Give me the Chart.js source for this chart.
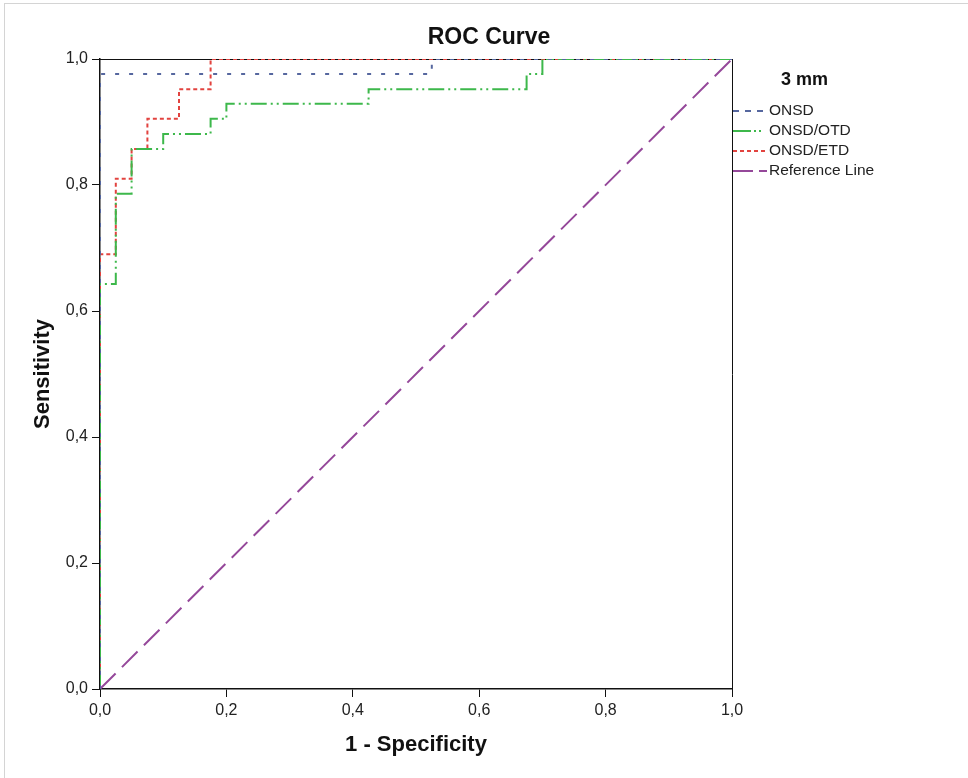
<!DOCTYPE html>
<html>
<head>
<meta charset="utf-8">
<script src="https://cdn.jsdelivr.net/npm/chart.js@4/dist/chart.umd.min.js"></script>
<style>
    body { margin: 0; background: #fff; }
    #wrap { position: relative; width: 968px; height: 778px; overflow: hidden; }
    #frame { position: absolute; left: 4px; top: 3px; width: 1000px; height: 800px;
             border-left: 1px solid #d4d4d4; border-top: 1px solid #d4d4d4; }
    #roc { position: absolute; left: 0; top: 0; }
</style>
</head>
<body>
<div id="wrap">
    <div id="frame"></div>
    <canvas id="roc" width="968" height="778"></canvas>
</div>
<script>
// ROC coordinates (x = 1 - specificity, y = sensitivity)
const onsdX = [0, 0, 0.525, 1];
const onsdY = [0, 0.976, 1, 1];

const otdX = [0, 0, 0.025, 0.05, 0.1, 0.175, 0.2, 0.425, 0.675, 0.7, 1];
const otdY = [0, 0.643, 0.786, 0.857, 0.881, 0.905, 0.929, 0.952, 0.976, 1, 1];

const etdX = [0, 0, 0.025, 0.05, 0.075, 0.125, 0.175, 1];
const etdY = [0, 0.690, 0.810, 0.857, 0.905, 0.952, 1, 1];

const refX = [0, 1];
const refY = [0, 1];

const seriesNames = ["ONSD", "ONSD/OTD", "ONSD/ETD", "Reference Line"];
const legendTitle = "3 mm";

const tickValues = [0, 0.2, 0.4, 0.6, 0.8, 1];
const tickLabels = ["0,0", "0,2", "0,4", "0,6", "0,8", "1,0"];

const FONT = "'Liberation Sans', Arial, sans-serif";

function pts(xs, ys) {
    return xs.map((x, i) => ({x: x, y: ys[i]}));
}

// legend drawn in the space on the right, like the SPSS output
const rocLegend = {
    id: 'rocLegend',
    afterDraw(chart) {
        const ctx = chart.ctx;
        const left = chart.chartArea.right + 1;
        ctx.save();
        ctx.fillStyle = '#111';
        ctx.textBaseline = 'middle';
        ctx.textAlign = 'left';
        ctx.font = 'bold 18px ' + FONT;
        ctx.fillText(legendTitle, left + 48, 80);
        ctx.font = '15.5px ' + FONT;
        chart.data.datasets.forEach((ds, i) => {
            const y = 111 + i * 20;
            ctx.strokeStyle = ds.borderColor;
            ctx.lineWidth = 2;
            ctx.setLineDash(ds.legendDash);
            ctx.beginPath();
            ctx.moveTo(left, y);
            ctx.lineTo(left + 34, y);
            ctx.stroke();
            ctx.setLineDash([]);
            ctx.fillStyle = '#222';
            ctx.fillText(ds.label, left + 36, y);
        });
        ctx.restore();
    }
};

function mainAxis(title, titlePadding, fit) {
    return {
        type: 'linear',
        min: 0,
        max: 1,
        afterBuildTicks: (s) => { s.ticks = tickValues.map(v => ({value: v})); },
        afterFit: fit,
        ticks: {
            callback: (v, i) => tickLabels[i],
            font: {family: FONT, size: 16},
            color: '#222',
            padding: 4
        },
        grid: {drawOnChartArea: false, drawTicks: true, tickLength: 8, color: '#111', lineWidth: 1},
        border: {display: true, color: '#111', width: 1.5},
        title: {
            display: true,
            text: title,
            color: '#111',
            font: {family: FONT, size: 22, weight: 'bold'},
            padding: titlePadding
        }
    };
}

function frameAxis(pos, fit) {
    return {
        type: 'linear',
        position: pos,
        min: 0,
        max: 1,
        afterFit: fit,
        ticks: {display: false},
        grid: {display: false, drawTicks: false},
        border: {display: true, color: '#111', width: 1}
    };
}

new Chart("roc", {
    type: "scatter",
    plugins: [rocLegend],
    data: {
        datasets: [
            {
                label: seriesNames[0],
                data: pts(onsdX, onsdY),
                borderColor: '#56679f',
                borderDash: [4, 10],
                legendDash: [6, 6],
                borderWidth: 2,
                showLine: true,
                stepped: 'before',
                pointRadius: 0
            },
            {
                label: seriesNames[1],
                data: pts(otdX, otdY),
                borderColor: '#3db84b',
                borderDash: [16, 4, 2, 4, 2, 4],
                legendDash: [18, 3, 2, 3, 2, 6],
                borderWidth: 2,
                showLine: true,
                stepped: 'before',
                pointRadius: 0
            },
            {
                label: seriesNames[2],
                data: pts(etdX, etdY),
                borderColor: '#e2433f',
                borderDash: [4, 3],
                legendDash: [4, 3],
                borderWidth: 2,
                showLine: true,
                stepped: 'before',
                pointRadius: 0
            },
            {
                label: seriesNames[3],
                data: pts(refX, refY),
                borderColor: '#95489a',
                borderDash: [22, 9],
                legendDash: [20, 6, 8, 20],
                borderWidth: 2,
                showLine: true,
                pointRadius: 0
            }
        ]
    },
    options: {
        responsive: false,
        animation: false,
        layout: {padding: {left: 10, right: 0, top: 0, bottom: 0}},
        plugins: {
            legend: {display: false},
            tooltip: {enabled: false},
            title: {
                display: true,
                text: 'ROC Curve',
                color: '#111',
                font: {family: FONT, size: 23, weight: 'bold'},
                padding: {top: 24, bottom: 7.4}
            }
        },
        scales: {
            x: Object.assign(mainAxis('1 - Specificity', {top: 4, bottom: 20}, (s) => { s.height = 89; }), {position: 'bottom'}),
            y: Object.assign(mainAxis('Sensitivity', {top: 20, bottom: 4}, (s) => { s.width = 90; }), {position: 'left'}),
            x2: frameAxis('top', (s) => { s.height = 0; }),
            y2: frameAxis('right', (s) => { s.width = 236; })
        }
    }
});
</script>
</body>
</html>
